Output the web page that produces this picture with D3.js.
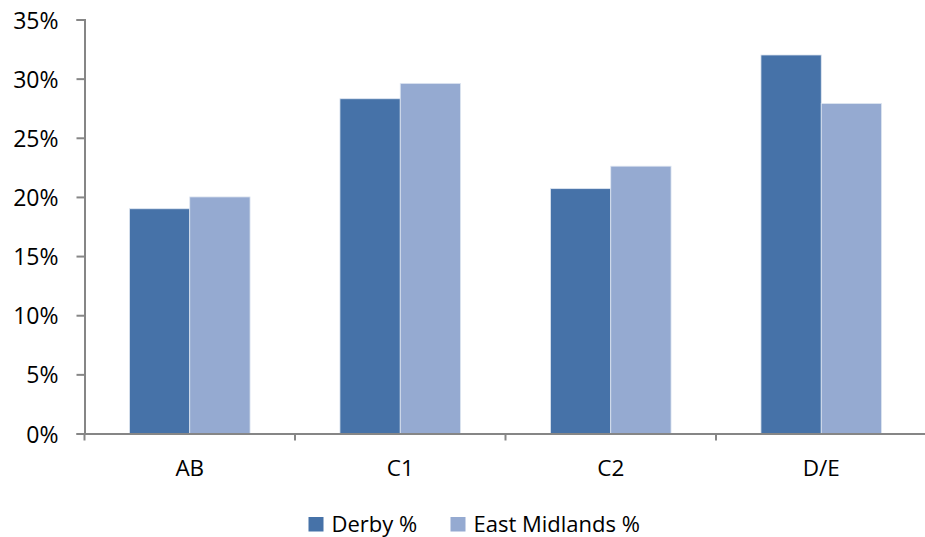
<!DOCTYPE html>
<html>
<head>
<meta charset="utf-8">
<script src="https://cdn.jsdelivr.net/npm/d3@7"></script>
<style>
  html, body { margin: 0; padding: 0; background: #fff; overflow: hidden; }
  svg { display: block; }
</style>
</head>
<body>
<svg id="chart" width="925" height="537"></svg>
<script>
// Social grade distribution: Derby vs East Midlands
const categories = ["AB", "C1", "C2", "D/E"];
const seriesNames = ["Derby %", "East Midlands %"];
const derby = [19.0, 28.3, 20.7, 32.0];
const eastMidlands = [20.0, 29.6, 22.6, 27.9];
const yTicks = [0, 5, 10, 15, 20, 25, 30, 35];
const colors = ["#4672a8", "#95aad1"];

const FONT = "'Open Sans', 'Noto Sans', sans-serif";
const svg = d3.select("#chart");
const plotLeft = 84.5, plotRight = 926.5, plotTop = 19.5, plotBottom = 433.5;

const x = d3.scaleBand().domain(categories).range([plotLeft, plotRight]).paddingInner(0).paddingOuter(0);
const y = d3.scaleLinear().domain([0, 35]).range([plotBottom, plotTop]);

const groupW = x.bandwidth();
const barW = groupW * 0.2865;
const xs = d3.scaleBand().domain(seriesNames).range([groupW / 2 - barW, groupW / 2 + barW]);

const data = categories.map((c, i) => ({ cat: c, vals: [derby[i], eastMidlands[i]] }));

// Bars
const groups = svg.append("g").selectAll("g").data(data).join("g")
  .attr("transform", d => `translate(${x(d.cat)},0)`);
groups.selectAll("rect").data(d => d.vals.map((v, k) => ({ v, k })))
  .join("rect")
  .attr("x", d => xs(seriesNames[d.k]))
  .attr("width", xs.bandwidth())
  .attr("y", d => y(d.v))
  .attr("height", d => y(0) - y(d.v))
  .attr("fill", d => colors[d.k])
  .attr("stroke", "#dfe6f1")
  .attr("stroke-width", 0.8);

// Y axis
const yAxis = d3.axisLeft(y).tickValues(yTicks).tickFormat(d => d + "%").tickSize(8).tickPadding(18);
const gy = svg.append("g").attr("transform", `translate(${plotLeft},0)`).call(yAxis)
  .attr("font-family", FONT).attr("font-size", 23);
gy.select(".domain").attr("stroke", "#868686").attr("stroke-width", 2);
gy.selectAll(".tick line").attr("stroke", "#868686").attr("stroke-width", 2);
gy.selectAll(".tick text").attr("fill", "#000").attr("dy", "0.37em");

// X axis
const xAxis = d3.axisBottom(x).tickSize(0).tickPadding(26.5);
const gx = svg.append("g").attr("transform", `translate(0,${y(0)})`).call(xAxis)
  .attr("font-family", FONT).attr("font-size", 22.5);
gx.select(".domain").attr("stroke", "#868686").attr("stroke-width", 2);
gx.selectAll(".tick text").attr("fill", "#000");
// category boundary ticks
const bounds = categories.map(c => x(c)).concat([plotRight]);
gx.selectAll(".bound").data(bounds).join("line")
  .attr("x1", d => d).attr("x2", d => d)
  .attr("y1", 0).attr("y2", 7)
  .attr("stroke", "#868686").attr("stroke-width", 2);

// Legend
const legend = svg.append("g").attr("transform", "translate(308.5,517)")
  .attr("font-family", FONT).attr("font-size", 22);
const legendX = [0, 142];
seriesNames.forEach((n, i) => {
  const g = legend.append("g").attr("transform", `translate(${legendX[i]},0)`);
  g.append("rect").attr("width", 15).attr("height", 14.5).attr("fill", colors[i]);
  g.append("text").attr("x", 23).attr("y", 14.7)
    .attr("fill", "#000").text(n);
});
</script>
</body>
</html>
